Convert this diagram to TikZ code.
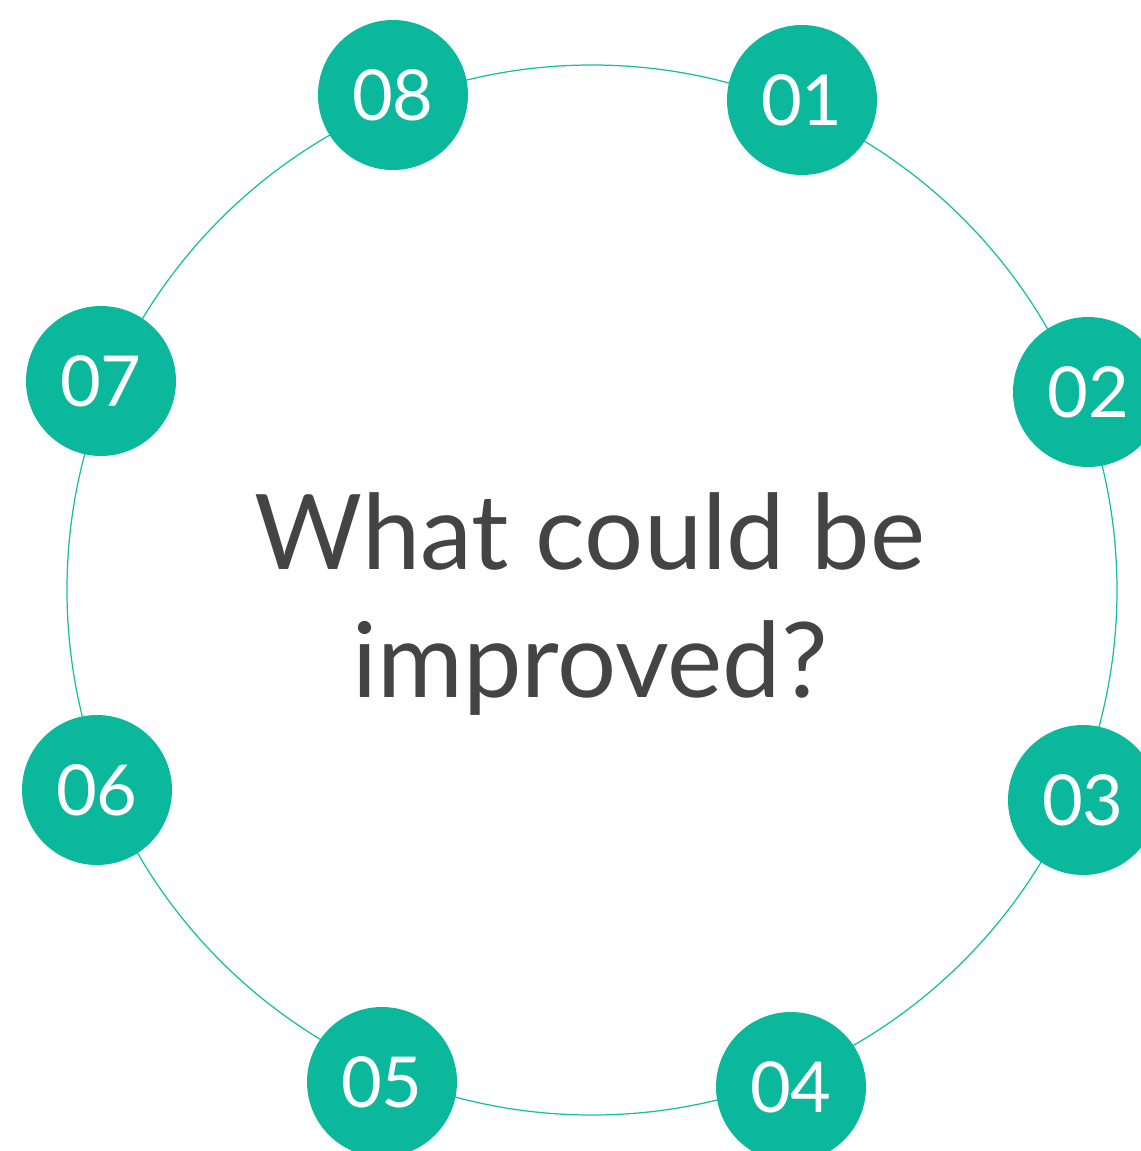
\documentclass[tikz,border=0pt]{standalone}
\usepackage{fontspec}
\setmainfont{Lato}
\definecolor{tealdot}{RGB}{11,184,156}
\definecolor{tealring}{RGB}{20,190,160}
\definecolor{titlegray}{RGB}{68,68,68}
\tikzset{
  stepdot/.style={circle, fill=tealdot, minimum size=1.5cm, inner sep=0pt, text=white, font=\fontsize{20}{24}\selectfont},
  ring/.style={draw=tealring, line width=0.35pt}
}
\begin{document}
\begin{tikzpicture}

\useasboundingbox (-5.92,-5.61) rectangle (5.49,5.90);

\draw[ring] (0,0) circle (5.25);

\node[stepdot] (s1) at (2.10,4.90) {01};
\node[stepdot] (s2) at (4.96,1.98) {02};
\node[stepdot] (s3) at (4.91,-2.10) {03};
\node[stepdot] (s4) at (1.99,-4.97) {04};
\node[stepdot] (s5) at (-2.10,-4.92) {05};
\node[stepdot] (s6) at (-4.95,-2.00) {06};
\node[stepdot] (s7) at (-4.91,2.09) {07};
\node[stepdot] (s8) at (-1.99,4.95) {08};

\node[align=center, text=titlegray, font=\fontsize{29.7}{36.6}\selectfont] (title) at (-0.02,-0.14) {What could be\\improved?};
\end{tikzpicture}
\end{document}
